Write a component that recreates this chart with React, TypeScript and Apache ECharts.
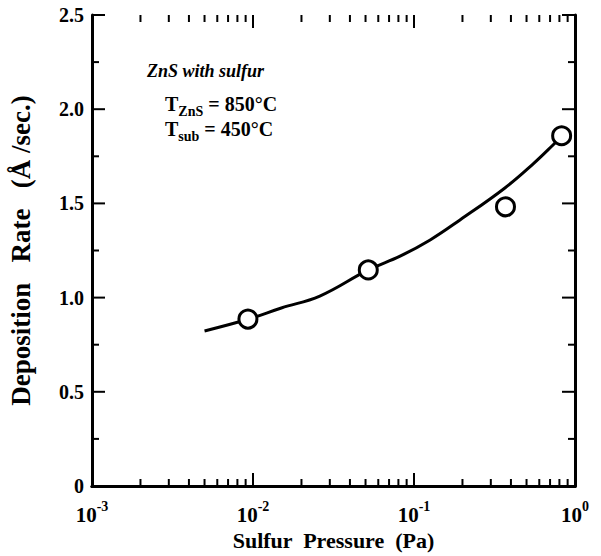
import React, { useEffect, useRef } from "react";
import * as echarts from "echarts";

const xTickValues = [0.001, 0.01, 0.1, 1];
const yTickLabels = ["0", "0.5", "1.0", "1.5", "2.0", "2.5"];
const yMajorTicks = [0, 0.5, 1.0, 1.5, 2.0, 2.5];
const yMinorTicks = [0.25, 0.75, 1.25, 1.75, 2.25];
const curveX = [0.005, 0.0093, 0.015, 0.026, 0.052, 0.082, 0.126, 0.193, 0.367, 0.55, 0.73, 0.8];
const curveY = [0.823, 0.885, 0.945, 1.008, 1.147, 1.22, 1.306, 1.412, 1.582, 1.71, 1.81, 1.845];
const pointsX = [0.0093, 0.052, 0.37, 0.826];
const pointsY = [0.886, 1.147, 1.482, 1.859];
const minorX = [2, 3, 4, 5, 6, 7, 8, 9].flatMap((m) => [0.001 * m, 0.01 * m, 0.1 * m]);

const FONT = "'Liberation Serif', 'Times New Roman', serif";
const MAJOR_LEN = 13;
const MINOR_LEN = 7;

export default function App() {
  const ref = useRef<HTMLDivElement>(null);
  useEffect(() => {
    if (!ref.current) return;
    const chart = echarts.init(ref.current, null, { renderer: "svg" });
    const xMin = xTickValues[0];
    const xMax = xTickValues[xTickValues.length - 1];
    const yMin = yMajorTicks[0];
    const yMax = yMajorTicks[yMajorTicks.length - 1];
    const axisLineStyle = { color: "#000", width: 3 };
    const xLabelFmt = (v: number) => {
      const e = Math.round(Math.log10(v));
      return `{b|10}{s|${e}}`;
    };
    const yLabelFmt = (v: number) => {
      const idx = Math.round(v / 0.5);
      return yTickLabels[idx] ?? String(v);
    };
    const richT = { fontFamily: FONT, fontWeight: "bold", fontSize: 20, lineHeight: 24, verticalAlign: "top", color: "#000" };
    const richSub = { fontFamily: FONT, fontWeight: "bold", fontSize: 14, lineHeight: 24, verticalAlign: "bottom", color: "#000" };
    const tickStyle = { stroke: "#000", lineWidth: 2 };
    chart.setOption({
      animation: false,
      backgroundColor: "#fff",
      grid: { left: 92, top: 15, right: 26, bottom: 70, containLabel: false, outerBoundsMode: "none" },
      xAxis: [
        {
          type: "log",
          logBase: 10,
          min: xMin,
          max: xMax,
          position: "bottom",
          name: "Sulfur  Pressure  (Pa)",
          nameLocation: "middle",
          nameGap: 42,
          nameTextStyle: { fontFamily: FONT, fontWeight: "bold", fontSize: 22, color: "#000" },
          axisLine: { show: true, lineStyle: axisLineStyle },
          axisTick: { show: false },
          splitLine: { show: false },
          axisLabel: {
            show: true,
            margin: 13,
            formatter: xLabelFmt,
            rich: {
              b: { fontFamily: FONT, fontWeight: "bold", fontSize: 21, color: "#000", lineHeight: 26, verticalAlign: "bottom" },
              s: { fontFamily: FONT, fontWeight: "bold", fontSize: 14, color: "#000", lineHeight: 26, verticalAlign: "top" },
            },
          },
        },
        {
          type: "log",
          logBase: 10,
          min: xMin,
          max: xMax,
          position: "top",
          axisLine: { show: true, lineStyle: axisLineStyle },
          axisTick: { show: false },
          axisLabel: { show: false },
          splitLine: { show: false },
        },
      ],
      yAxis: [
        {
          type: "value",
          min: yMin,
          max: yMax,
          interval: 0.5,
          name: "Deposition   Rate   (Å /sec.)",
          nameLocation: "middle",
          nameGap: 58,
          nameTextStyle: { fontFamily: FONT, fontWeight: "bold", fontSize: 27, color: "#000" },
          axisLine: { show: true, lineStyle: axisLineStyle },
          axisTick: { show: false },
          splitLine: { show: false },
          axisLabel: {
            show: true,
            margin: 8,
            formatter: yLabelFmt,
            fontFamily: FONT,
            fontWeight: "bold",
            fontSize: 20,
            color: "#000",
          },
        },
        {
          type: "value",
          min: yMin,
          max: yMax,
          interval: 0.5,
          position: "right",
          axisLine: { show: true, lineStyle: axisLineStyle },
          axisTick: { show: false },
          splitLine: { show: false },
          axisLabel: { show: false },
        },
      ],
      graphic: [
        {
          type: "text",
          left: 147,
          top: 62,
          style: {
            text: "ZnS with sulfur",
            fontFamily: FONT,
            fontStyle: "italic",
            fontWeight: "bold",
            fontSize: 18,
            fill: "#000",
          },
        },
        {
          type: "text",
          left: 165,
          top: 94,
          style: {
            text: "{t|T}{sub|ZnS}{t| = 850°C}",
            fill: "#000",
            rich: { t: richT, sub: richSub },
          },
        },
        {
          type: "text",
          left: 165,
          top: 119,
          style: {
            text: "{t|T}{sub|sub}{t| = 450°C}",
            fill: "#000",
            rich: { t: richT, sub: richSub },
          },
        },
      ],
      series: [
        {
          type: "custom",
          xAxisIndex: 0,
          yAxisIndex: 0,
          clip: false,
          silent: true,
          data: [
            ...xTickValues.map((v) => [v, yMin, MAJOR_LEN]),
            ...minorX.map((v) => [v, yMin, MINOR_LEN]),
          ],
          renderItem: (params: any, api: any) => {
            const v = api.value(0);
            const len = api.value(2);
            const b = api.coord([v, yMin]);
            const t = api.coord([v, yMax]);
            return {
              type: "group",
              children: [
                { type: "line", shape: { x1: b[0], y1: b[1], x2: b[0], y2: b[1] - len }, style: tickStyle },
                { type: "line", shape: { x1: t[0], y1: t[1], x2: t[0], y2: t[1] + len }, style: tickStyle },
              ],
            };
          },
        },
        {
          type: "custom",
          xAxisIndex: 0,
          yAxisIndex: 0,
          clip: false,
          silent: true,
          data: [
            ...yMajorTicks.map((v) => [xMin, v, MAJOR_LEN]),
            ...yMinorTicks.map((v) => [xMin, v, MINOR_LEN]),
          ],
          renderItem: (params: any, api: any) => {
            const v = api.value(1);
            const len = api.value(2);
            const l = api.coord([xMin, v]);
            const r = api.coord([xMax, v]);
            return {
              type: "group",
              children: [
                { type: "line", shape: { x1: l[0], y1: l[1], x2: l[0] + len, y2: l[1] }, style: tickStyle },
                { type: "line", shape: { x1: r[0], y1: r[1], x2: r[0] - len, y2: r[1] }, style: tickStyle },
              ],
            };
          },
        },
        {
          type: "line",
          data: curveX.map((x, i) => [x, curveY[i]]),
          smooth: 0.4,
          showSymbol: false,
          lineStyle: { color: "#000", width: 3 },
          z: 3,
        },
        {
          type: "scatter",
          data: pointsX.map((x, i) => [x, pointsY[i]]),
          symbol: "circle",
          symbolSize: 18,
          itemStyle: { color: "#fff", borderColor: "#000", borderWidth: 3, opacity: 1 },
          z: 4,
        },
      ],
    });
    return () => chart.dispose();
  }, []);
  return <div ref={ref} style={{ position: "fixed", left: 0, top: 0, width: 601, height: 556 }} />;
}
